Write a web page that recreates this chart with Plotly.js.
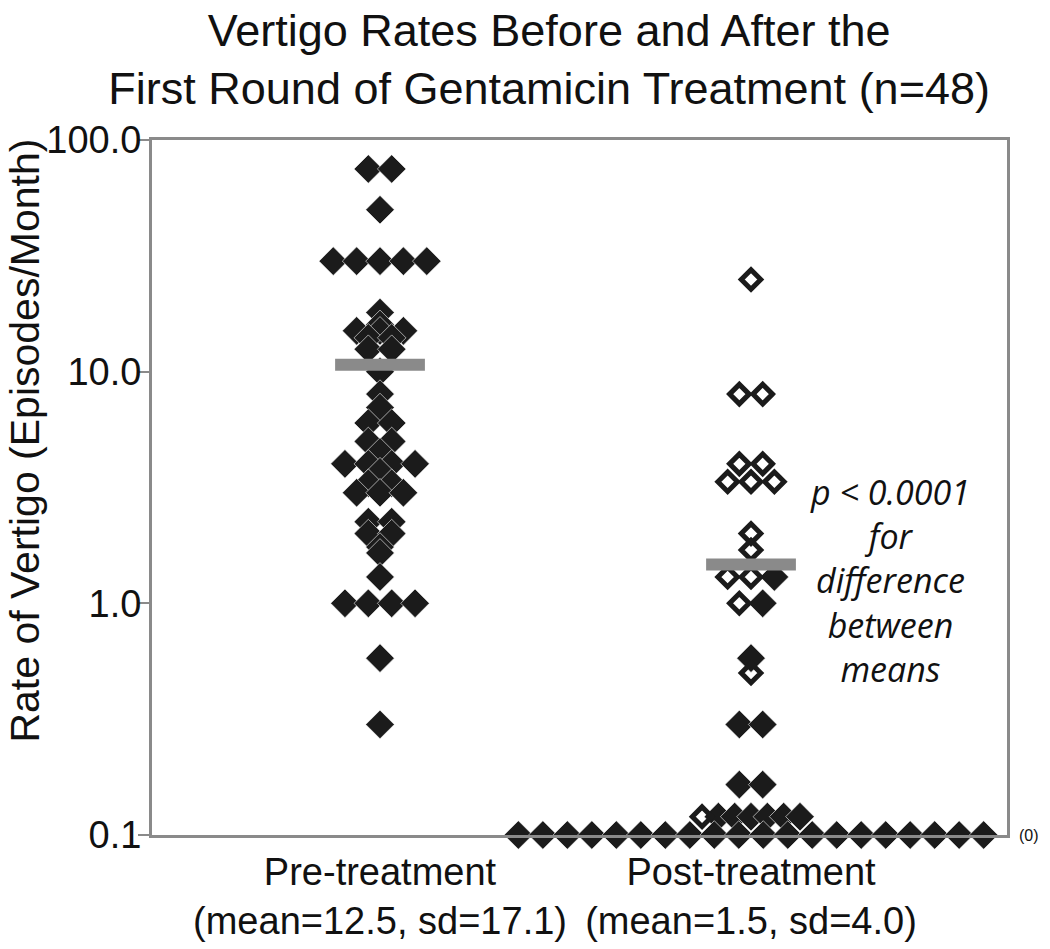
<!DOCTYPE html>
<html>
<head>
<meta charset="utf-8">
<script src="https://cdn.plot.ly/plotly-3.0.1.min.js"></script>
<style>html,body{margin:0;padding:0;background:#fff;}#chart{width:1050px;height:949px;}</style>
</head>
<body>
<div id="chart"></div>
<script>
// ---- data (episodes / month) ----
const categories = ["Pre-treatment", "Post-treatment"];
const tickLabels = ["Pre-treatment<br>(mean=12.5, sd=17.1)", "Post-treatment<br>(mean=1.5, sd=4.0)"];
const preValues = [75, 75, 50, 30, 30, 30, 30, 30, 18, 16, 15, 15, 15, 14, 14, 12.5, 12.5,
  10, 8, 7, 6, 6, 5, 5, 4.5, 4, 4, 4, 4, 3.7, 3.3, 3.3, 3, 3, 3, 2.25, 2.25, 2, 2,
  1.75, 1.65, 1.3, 1, 1, 1, 1, 0.58, 0.3];
const postOpenValues = [25, 8, 8, 4, 4, 3.35, 3.35, 3.35, 2.0, 1.7, 1.3, 1.3, 1.0, 0.5, 0.12];
const postFilledValues = [1.3, 1.0, 0.58, 0.3, 0.3, 0.165, 0.165, 0.12, 0.12, 0.12, 0.12, 0.12, 0.12,
  0, 0, 0, 0, 0, 0, 0, 0, 0, 0, 0, 0, 0, 0, 0, 0, 0, 0, 0, 0];
const meanBarValues = [10.7, 1.47];   // drawn level of the grey mean bars
const yTickVals = [0.1, 1, 10, 100];
const yTickText = ["0.1", "1.0", "10.0", "100.0"];
const titleText = "Vertigo Rates Before and After the<br>First Round of Gentamicin Treatment (n=48)";
const yTitleText = "Rate of Vertigo (Episodes/Month)";
const pText = "<i>p &lt; 0.0001<br>for<br>difference<br>between<br>means</i>";

// ---- layout helpers ----
const FLOOR = 0.1;            // zero values sit on the axis floor, labelled "(0)"
const SPREAD = 0.063, ZERO_SPREAD = 0.066, DENSE_SPREAD = 0.044;

function swarm(points, center) {
  const groups = new Map();
  points.forEach(p => {
    if (!groups.has(p.v)) groups.set(p.v, []);
    groups.get(p.v).push(p);
  });
  const out = [];
  groups.forEach((arr, v) => {
    arr.sort((a, b) => (a.kind === b.kind ? 0 : (a.kind === "open" ? -1 : 1)));
    const n = arr.length;
    const s = v === 0 ? ZERO_SPREAD : (n > 5 ? DENSE_SPREAD : SPREAD);
    arr.forEach((p, i) => {
      out.push({x: center + (i - (n - 1) / 2) * s, y: v === 0 ? FLOOR : v, kind: p.kind});
    });
  });
  return out;
}

const prePts = swarm(preValues.map(v => ({v, kind: "filled"})), 1);
const postPts = swarm(postOpenValues.map(v => ({v, kind: "open"}))
  .concat(postFilledValues.map(v => ({v, kind: "filled"}))), 2);

const DARK = "#1b1b1b", GREY = "#8a8a8a";
const filledMarker = {symbol: "diamond", size: 22, color: DARK, line: {color: "#ffffff", width: 0.6}};
const openMarker = {symbol: "diamond-open", size: 15, color: DARK, line: {color: DARK, width: 5}};

const postFilled = postPts.filter(p => p.kind === "filled");
const postOpen = postPts.filter(p => p.kind === "open");

const traces = [
  {type: "scatter", mode: "markers", name: categories[0], x: prePts.map(p => p.x), y: prePts.map(p => p.y),
   marker: filledMarker, cliponaxis: false, hoverinfo: "y"},
  {type: "scatter", mode: "markers", name: categories[1], x: postFilled.map(p => p.x), y: postFilled.map(p => p.y),
   marker: filledMarker, cliponaxis: false, hoverinfo: "y"},
  {type: "scatter", mode: "markers", name: categories[1] + " (open)", x: postOpen.map(p => p.x), y: postOpen.map(p => p.y),
   marker: openMarker, cliponaxis: false, hoverinfo: "y"}
];
meanBarValues.forEach((m, i) => {
  traces.push({type: "scatter", mode: "lines", name: "mean " + categories[i],
    x: [i + 1 - 0.121, i + 1 + 0.121], y: [m, m],
    line: {color: GREY, width: 12}, hoverinfo: "y"});
});

const FONT = "Liberation Sans, Arial, Helvetica, sans-serif";
const layout = {
  width: 1050, height: 949,
  margin: {l: 152, r: 43, t: 140, b: 114},
  paper_bgcolor: "#ffffff", plot_bgcolor: "#ffffff",
  showlegend: false,
  font: {family: FONT, color: "#111111"},
  title: {
    text: titleText,
    font: {family: FONT, size: 45, color: "#111111"},
    x: 0.523, xanchor: "center", xref: "container", y: 0.952, yanchor: "middle", yref: "container"
  },
  xaxis: {
    range: [0.3854, 2.690],
    tickvals: [1, 2], ticktext: tickLabels,
    tickfont: {family: FONT, size: 38, color: "#111111"},
    ticklabelstandoff: 1,
    showgrid: false, zeroline: false,
    showline: true, mirror: true, linecolor: GREY, linewidth: 3,
    ticks: "", ticklen: 0
  },
  yaxis: {
    type: "log", range: [-1, 2],
    tickvals: yTickVals, ticktext: yTickText,
    tickfont: {family: FONT, size: 38, color: "#111111"},
    ticklabelstandoff: -11,
    showgrid: false, zeroline: false,
    showline: true, mirror: true, linecolor: GREY, linewidth: 3,
    ticks: "outside", ticklen: 11, tickwidth: 2, tickcolor: GREY
  },
  annotations: [
    {xref: "paper", yref: "paper", x: -0.149, y: 0.567, showarrow: false, textangle: -90,
     text: yTitleText, font: {family: FONT, size: 41, color: "#111111"},
     xanchor: "center", yanchor: "middle"},
    {xref: "x", yref: "y", x: 2.375, y: 0.1, showarrow: false,
     text: pText,
     font: {family: "Open Sans, Noto Sans, sans-serif", size: 34, color: "#111111"},
     align: "center", xanchor: "center", yanchor: "middle"},
    {xref: "paper", yref: "y", x: 1.012, y: -1, showarrow: false, text: "(0)",
     font: {family: FONT, size: 16, color: "#111111"}, xanchor: "left", yanchor: "middle"}
  ]
};

Plotly.newPlot("chart", traces, layout, {displayModeBar: false, staticPlot: true});
</script>
</body>
</html>
